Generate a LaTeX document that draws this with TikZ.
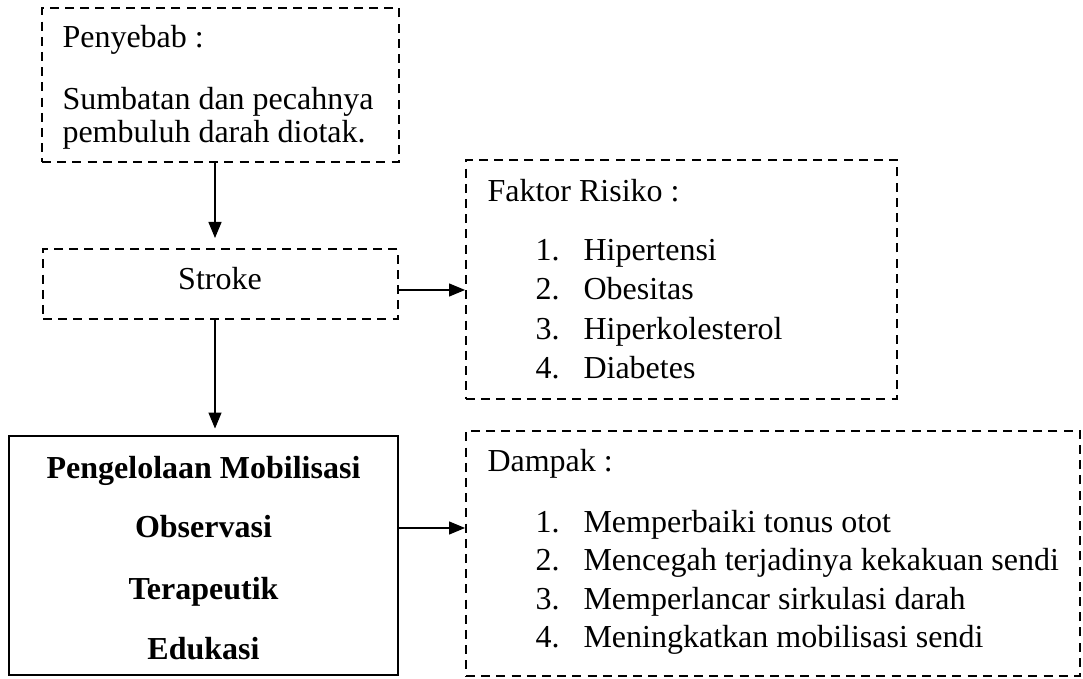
\documentclass[tikz,border=0pt]{standalone}
\usepackage{fontspec}
\setmainfont{Liberation Serif}
\usetikzlibrary{arrows.meta,fit}
\begin{document}
\begin{tikzpicture}[x=0.375pt,y=-0.375pt,
  font=\fontsize{12}{14}\selectfont,
  dbox/.style={draw, line width=0.75pt, dash pattern=on 3.4pt off 2.3pt, inner sep=0pt},
  sbox/.style={draw, line width=1.1pt, inner sep=0pt},
  txt/.style={anchor=base west, inner sep=0pt},
  ctxt/.style={anchor=base, inner sep=0pt},
  btxt/.style={anchor=base, inner sep=0pt, font=\fontsize{12}{14}\selectfont\bfseries},
  arr/.style={-{Triangle[length=6pt,width=4.9pt]}, line width=0.4pt}
]
\useasboundingbox (0,0) rectangle (1083,679);

% Penyebab box
\node[dbox, fit={(42,8) (399,162)}] (pen) {};
\node[txt] (pen1) at (62,48) {Penyebab :};
\node[txt] (pen2) at (62,110) {Sumbatan dan pecahnya};
\begin{scope}
  \clip (0,0) rectangle (1083,152);
  \node[txt] (pen3) at (62,143) {pembuluh darah diotak.};
\end{scope}

% Stroke box
\node[dbox, fit={(43,249) (398,319)}] (stroke) {};
\node[ctxt] (strokelbl) at (220,290) {Stroke};

% Faktor Risiko box
\node[dbox, fit={(466,160) (897,399)}] (fak) {};
\node[txt] (fakh) at (487,202) {Faktor Risiko :};
\node[txt] (fn1) at (535,261) {1.};
\node[txt] (ft1) at (583,261) {Hipertensi};
\node[txt] (fn2) at (535,300) {2.};
\node[txt] (ft2) at (583,300) {Obesitas};
\node[txt] (fn3) at (535,340) {3.};
\node[txt] (ft3) at (583,340) {Hiperkolesterol};
\node[txt] (fn4) at (535,379) {4.};
\node[txt] (ft4) at (583,379) {Diabetes};

% Mobilisasi box
\node[sbox, fit={(9,436) (398,675)}] (mob) {};
\node[btxt] (mob1) at (203.5,479) {Pengelolaan Mobilisasi};
\node[btxt] (mob2) at (203.5,538) {Observasi};
\node[btxt] (mob3) at (203.5,600) {Terapeutik};
\node[btxt] (mob4) at (203.5,660) {Edukasi};

% Dampak box
\node[dbox, fit={(466,431) (1080,676)}] (dam) {};
\node[txt] (damh) at (487,472) {Dampak :};
\node[txt] (dn1) at (535,533) {1.};
\node[txt] (dt1) at (583,533) {Memperbaiki tonus otot};
\node[txt] (dn2) at (535,571) {2.};
\node[txt] (dt2) at (583,571) {Mencegah terjadinya kekakuan sendi};
\node[txt] (dn3) at (535,610) {3.};
\node[txt] (dt3) at (583,610) {Memperlancar sirkulasi darah};
\node[txt] (dn4) at (535,648) {4.};
\node[txt] (dt4) at (583,648) {Meningkatkan mobilisasi sendi};

% Connectors
\draw[arr, shorten >=3.75pt] (pen.south -| 215,0) -- (stroke.north -| 215,0);
\draw[arr, shorten >=2.25pt] (stroke.south -| 215,0) -- (mob.north -| 215,0);
\draw[arr] (stroke.east |- 0,290) -- (fak.west |- 0,290);
\draw[arr] (mob.east |- 0,528) -- (dam.west |- 0,528);
\end{tikzpicture}
\end{document}
